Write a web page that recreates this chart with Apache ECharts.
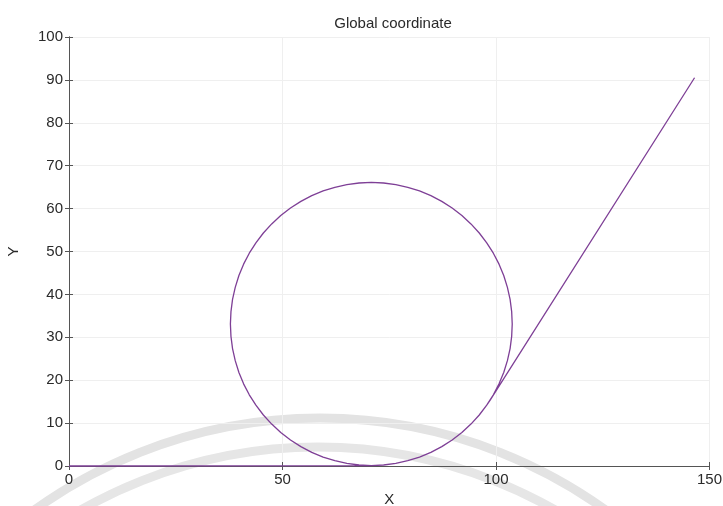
<!DOCTYPE html>
<html>
<head>
<meta charset="utf-8">
<style>
  html, body { margin: 0; padding: 0; background: #fff; }
  #chart { width: 723px; height: 506px; }
</style>
<script src="https://cdn.jsdelivr.net/npm/echarts@6/dist/echarts.min.js"></script>
</head>
<body>
<div id="chart"></div>
<script>
// Straight run along the X axis up to the bottom of the loop
var approach = [
  [0, 0], [70.8, 0.1]
];

// One full loop, counter-clockwise from the bottom point
var loop = [
  [73.68, 0.23], [76.53, 0.60], [79.34, 1.23], [82.09, 2.09], [84.75, 3.19],
  [87.30, 4.52], [89.73, 6.07], [92.01, 7.82], [94.13, 9.77], [96.08, 11.89],
  [97.83, 14.17], [99.38, 16.60], [100.71, 19.15], [101.81, 21.81], [102.67, 24.56],
  [103.30, 27.37], [103.67, 30.22], [103.80, 33.10], [103.67, 35.98], [103.30, 38.83],
  [102.67, 41.64], [101.81, 44.39], [100.71, 47.05], [99.38, 49.60], [97.83, 52.03],
  [96.08, 54.31], [94.13, 56.43], [92.01, 58.38], [89.73, 60.13], [87.30, 61.68],
  [84.75, 63.01], [82.09, 64.11], [79.34, 64.97], [76.53, 65.60], [73.68, 65.97],
  [70.80, 66.10], [67.92, 65.97], [65.07, 65.60], [62.26, 64.97], [59.51, 64.11],
  [56.85, 63.01], [54.30, 61.68], [51.87, 60.13], [49.59, 58.38], [47.47, 56.43],
  [45.52, 54.31], [43.77, 52.03], [42.22, 49.60], [40.89, 47.05], [39.79, 44.39],
  [38.93, 41.64], [38.30, 38.83], [37.93, 35.98], [37.80, 33.10], [37.93, 30.22],
  [38.30, 27.37], [38.93, 24.56], [39.79, 21.81], [40.89, 19.15], [42.22, 16.60],
  [43.77, 14.17], [45.52, 11.89], [47.47, 9.77], [49.59, 7.82], [51.87, 6.07],
  [54.30, 4.52], [56.85, 3.19], [59.51, 2.09], [62.26, 1.23], [65.07, 0.60],
  [67.92, 0.23], [70.80, 0.10]
];

// Second pass over the lower right arc until the tangent exit
var leadOut = [
  [73.68, 0.23], [76.53, 0.60], [79.34, 1.23], [82.09, 2.09], [84.75, 3.19],
  [87.30, 4.52], [89.73, 6.07], [92.01, 7.82], [94.13, 9.77], [96.08, 11.89],
  [97.83, 14.17], [98.63, 15.37]
];

// Straight exit towards the upper right
var exitLine = [
  [146.5, 90.5]
];

var xTicks = { min: 0, max: 150, step: 50 };
var yTicks = { min: 0, max: 100, step: 10 };

var track = approach.concat(loop, leadOut, exitLine);

var font = 'Liberation Sans, Arial, sans-serif';
var textColor = '#2a2a2a';
var boxColor = '#555';
var gridColor = '#efefef';
var labelSize = 15;

var chart = echarts.init(document.getElementById('chart'), null, { renderer: 'canvas' });

chart.setOption({
  backgroundColor: '#fff',
  animation: false,
  title: {
    text: 'Global coordinate',
    left: 388,
    top: 11,
    textAlign: 'center',
    textStyle: { fontFamily: font, fontSize: 15, fontWeight: 'normal', color: textColor }
  },
  grid: {
    left: 69, right: 13.5, top: 37, bottom: 40,
    containLabel: false,
    outerBoundsMode: 'none'
  },
  graphic: [
    {
      type: 'arc', z: -10, silent: true,
      shape: { cx: 320, cy: 907, r: 489, startAngle: Math.PI, endAngle: Math.PI * 2 },
      style: { stroke: '#e3e3e3', lineWidth: 9, fill: null }
    },
    {
      type: 'arc', z: -10, silent: true,
      shape: { cx: 318, cy: 925, r: 478, startAngle: Math.PI, endAngle: Math.PI * 2 },
      style: { stroke: '#e6e6e6', lineWidth: 9, fill: null }
    }
  ],
  xAxis: [
    {
      type: 'value', min: xTicks.min, max: xTicks.max, interval: xTicks.step,
      position: 'bottom',
      name: 'X', nameLocation: 'middle', nameGap: 25,
      nameTextStyle: { fontFamily: font, fontSize: labelSize, color: textColor },
      axisLine: { show: true, lineStyle: { color: boxColor, width: 1 } },
      axisTick: { show: true, inside: true, length: 4, lineStyle: { color: boxColor } },
      axisLabel: { fontFamily: font, fontSize: labelSize, color: textColor, margin: 6 },
      splitLine: { show: true, lineStyle: { color: gridColor, width: 1 } }
    },
    {
      type: 'value', min: xTicks.min, max: xTicks.max, interval: xTicks.step,
      position: 'top',
      axisLine: { show: true, lineStyle: { color: boxColor, width: 1 } },
      axisTick: { show: true, inside: true, length: 4, lineStyle: { color: boxColor } },
      axisLabel: { show: false },
      splitLine: { show: false }
    }
  ],
  yAxis: [
    {
      type: 'value', min: yTicks.min, max: yTicks.max, interval: yTicks.step,
      position: 'left',
      name: 'Y', nameLocation: 'middle', nameGap: 48, nameRotate: 90,
      nameTextStyle: { fontFamily: font, fontSize: labelSize, color: textColor },
      axisLine: { show: true, lineStyle: { color: boxColor, width: 1 } },
      axisTick: { show: true, inside: true, length: 4, lineStyle: { color: boxColor } },
      axisLabel: { fontFamily: font, fontSize: labelSize, color: textColor, margin: 6 },
      splitLine: { show: true, lineStyle: { color: gridColor, width: 1 } }
    },
    {
      type: 'value', min: yTicks.min, max: yTicks.max, interval: yTicks.step,
      position: 'right',
      axisLine: { show: true, lineStyle: { color: boxColor, width: 1 } },
      axisTick: { show: true, inside: true, length: 4, lineStyle: { color: boxColor } },
      axisLabel: { show: false },
      splitLine: { show: false }
    }
  ],
  series: [
    {
      type: 'line',
      xAxisIndex: 0,
      yAxisIndex: 0,
      data: track,
      showSymbol: false,
      smooth: false,
      clip: false,
      lineStyle: { color: '#7e3f96', width: 1.3 }
    }
  ]
});
</script>
</body>
</html>
